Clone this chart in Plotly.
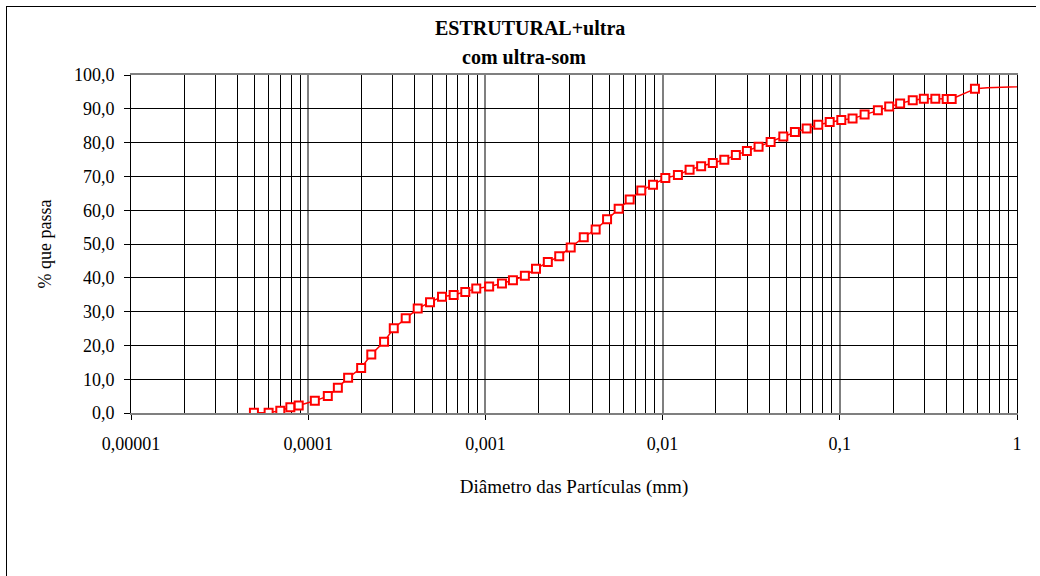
import plotly.graph_objects as go

# ---- data ----
diametro_mm = [4.94e-5, 5.98e-5, 6.96e-5, 7.93e-5, 8.84e-5,
               1.09e-4, 1.29e-4, 1.47e-4, 1.68e-4, 1.99e-4, 2.27e-4, 2.68e-4, 3.04e-4,
               3.55e-4, 4.15e-4, 4.87e-4, 5.69e-4, 6.62e-4, 7.70e-4, 8.88e-4,
               1.05e-3, 1.24e-3, 1.43e-3, 1.67e-3, 1.93e-3, 2.25e-3, 2.61e-3, 3.03e-3,
               3.59e-3, 4.19e-3, 4.86e-3, 5.65e-3, 6.52e-3, 7.58e-3, 8.83e-3,
               1.036e-2, 1.22e-2, 1.42e-2, 1.65e-2, 1.92e-2, 2.23e-2, 2.59e-2, 2.99e-2,
               3.48e-2, 4.07e-2, 4.80e-2, 5.58e-2, 6.50e-2, 7.56e-2, 8.77e-2,
               0.102, 0.118, 0.138, 0.164, 0.190, 0.219, 0.258, 0.298, 0.346,
               0.401, 0.428, 0.579]
pct_passa = [0.1, 0.1, 0.7, 1.7, 2.2,
             3.6, 5.0, 7.5, 10.4, 13.3, 17.3, 21.1, 25.1,
             28.0, 30.9, 32.8, 34.4, 34.9, 35.8, 36.8,
             37.4, 38.3, 39.3, 40.6, 42.7, 44.7, 46.4, 49.0,
             52.0, 54.3, 57.3, 60.4, 63.2, 65.8, 67.5,
             69.5, 70.4, 72.0, 73.0, 74.0, 74.9, 76.3, 77.5,
             78.8, 80.2, 81.8, 83.1, 84.2, 85.3, 86.1,
             86.7, 87.1, 88.3, 89.6, 90.7, 91.6, 92.5, 93.0, 93.0,
             92.9, 92.9, 95.9]
# tail of the curve drawn without markers
cauda_mm = [0.579, 0.68, 1.0, 1.07]
cauda_pct = [95.9, 96.2, 96.5, 96.8]

x_tickvals = [1e-5, 1e-4, 1e-3, 1e-2, 1e-1, 1]
x_ticktext = ["0,00001", "0,0001", "0,001", "0,01", "0,1", "1"]
y_tickvals = [0, 10, 20, 30, 40, 50, 60, 70, 80, 90, 100]

titulo1 = "ESTRUTURAL+ultra"
titulo2 = "com ultra-som"
titulo_x = "Diâmetro das Partículas (mm)"
titulo_y = "% que passa"

minor_vals = [m * d for d in x_tickvals[:-1] for m in range(2, 10)]

FONT = "Liberation Serif"
RED = "#ff0000"

fig = go.Figure()
fig.add_trace(go.Scatter(
    x=cauda_mm, y=cauda_pct, mode="lines",
    line=dict(color=RED, width=1.5), showlegend=False, hoverinfo="skip"))
fig.add_trace(go.Scatter(
    x=diametro_mm, y=pct_passa, mode="lines+markers",
    line=dict(color=RED, width=1.5),
    marker=dict(symbol="square", size=8, color="white",
                line=dict(color=RED, width=2)),
    showlegend=False))

L, R, T, B = 131, 1017, 75, 413
W, H = 1040, 576

def px_x(p):
    return (p - L) / (R - L)

def px_y(p):
    return (B - p) / (B - T)

fig.update_layout(
    width=W, height=H,
    margin=dict(l=L, r=W - R, t=T, b=H - B, pad=0),
    paper_bgcolor="white", plot_bgcolor="white",
    separators=",.",
    font=dict(family=FONT, size=18, color="black"),
    xaxis=dict(
        type="log", range=[-5, 0],
        tickmode="array", tickvals=x_tickvals, ticktext=x_ticktext,
        ticks="outside", ticklen=5, tickcolor="black", tickwidth=1,
        ticklabelstandoff=8,
        showgrid=True, gridcolor="#7f7f7f", gridwidth=2,
        minor=dict(tickvals=minor_vals, showgrid=True, gridcolor="black",
                   gridwidth=1, ticks=""),
        showline=True, linecolor="#7f7f7f", linewidth=2, mirror=True,
        zeroline=False,
        title=dict(text=titulo_x, font=dict(size=19), standoff=27),
        tickfont=dict(size=18),
    ),
    yaxis=dict(
        range=[0, 100], tickmode="array", tickvals=y_tickvals,
        tickformat=".1f",
        ticks="outside", ticklen=6, tickcolor="black", tickwidth=1,
        ticklabelstandoff=6,
        showgrid=True, gridcolor="black", gridwidth=1,
        showline=True, linecolor="black", linewidth=1, mirror=True,
        zeroline=False,
        title=dict(text=titulo_y, font=dict(size=18), standoff=17),
        tickfont=dict(size=18),
    ),
    annotations=[
        dict(text="<b>" + titulo1 + "</b>", xref="paper", yref="paper",
             x=px_x(530), y=px_y(28), xanchor="center", yanchor="middle",
             showarrow=False, font=dict(size=20, family=FONT)),
        dict(text="<b>" + titulo2 + "</b>", xref="paper", yref="paper",
             x=px_x(524), y=px_y(57), xanchor="center", yanchor="middle",
             showarrow=False, font=dict(size=20, family=FONT)),
    ],
    shapes=[
        dict(type="line", xref="paper", yref="paper",
             x0=px_x(6.5), x1=px_x(6.5), y0=px_y(6), y1=px_y(580),
             line=dict(color="black", width=1)),
        dict(type="line", xref="paper", yref="paper",
             x0=px_x(6), x1=px_x(1036), y0=px_y(6.5), y1=px_y(6.5),
             line=dict(color="black", width=1)),
    ],
)

fig.write_html("out.html", config={"displayModeBar": False},
               post_script="document.body.style.margin='0';")
